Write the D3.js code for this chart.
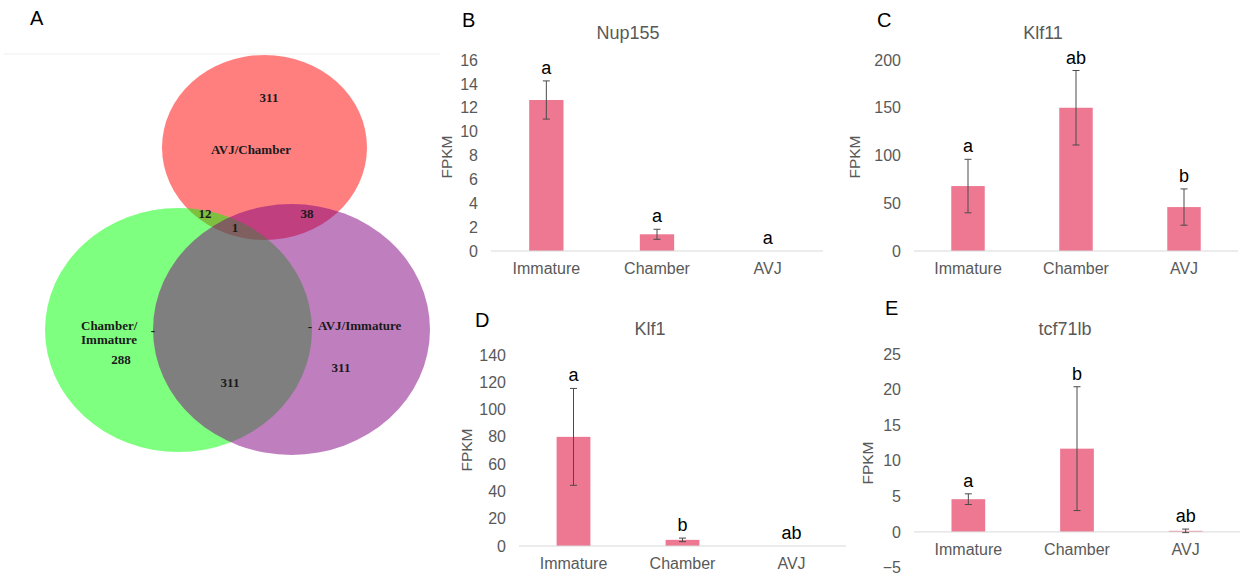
<!DOCTYPE html>
<html>
<head>
<meta charset="utf-8">
<script src="https://cdn.jsdelivr.net/npm/d3@7"></script>
<style>
  body { margin: 0; background: #fff; }
  svg { display: block; font-family: "Liberation Sans", Arial, sans-serif; }
</style>
</head>
<body>
<script>
const W = 1241, H = 576;

// ---- data ----
const categories = ["Immature", "Chamber", "AVJ"];

const nup155Mean = [12.65, 1.4, 0];
const nup155Err = [1.6, 0.42, 0];
const nup155Sig = ["a", "a", "a"];

const klf11Mean = [68, 150, 46];
const klf11Err = [28, 39, 19];
const klf11Sig = ["a", "ab", "b"];

const klf1Mean = [80, 4.5, 0];
const klf1Err = [35.5, 1.3, 0];
const klf1Sig = ["a", "b", "ab"];

const tcfMean = [4.6, 11.7, 0.15];
const tcfErr = [0.75, 8.7, 0.25];
const tcfSig = ["a", "b", "ab"];

// venn set counts
const vennSets = ["AVJ/Chamber", "Chamber/Immature", "AVJ/Immature"];
const vennCounts = { chamberOnly: 311, chImOnly: 288, avjImOnly: 311, chPlusChIm: 12, chPlusAvjIm: 38, all: 1, chImPlusAvjIm: 311 };

const svg = d3.select("body").append("svg")
    .attr("width", W)
    .attr("height", H);

// ---------------- Venn (A) ----------------
const venn = svg.append("g");

venn.append("text")
    .attr("x", 30).attr("y", 25)
    .style("font-size", "20px")
    .attr("fill", "#000")
    .text("A");

venn.append("line")
    .attr("x1", 4).attr("x2", 440)
    .attr("y1", 54).attr("y2", 54)
    .attr("stroke", "#eeeeee");

const ellipses = [
    { cx: 264.5, cy: 147.5, rx: 102.5, ry: 92.5, fill: "rgba(255,0,0,0.5)" },
    { cx: 178.5, cy: 330, rx: 133.5, ry: 122, fill: "rgba(0,255,0,0.5)" },
    { cx: 291.5, cy: 329.5, rx: 138.5, ry: 125.5, fill: "rgba(128,0,128,0.5)" }
];
venn.selectAll("ellipse")
    .data(ellipses)
    .enter()
    .append("ellipse")
    .attr("cx", d => d.cx)
    .attr("cy", d => d.cy)
    .attr("rx", d => d.rx)
    .attr("ry", d => d.ry)
    .attr("fill", d => d.fill);

const vennLabels = [
    { x: 269, y: 102, t: vennCounts.chamberOnly, a: "middle" },
    { x: 251, y: 154, t: vennSets[0], a: "middle" },
    { x: 205, y: 218, t: vennCounts.chPlusChIm, a: "middle" },
    { x: 307, y: 218, t: vennCounts.chPlusAvjIm, a: "middle" },
    { x: 235, y: 232, t: vennCounts.all, a: "middle" },
    { x: 81, y: 330, t: "Chamber/", a: "start" },
    { x: 81, y: 344, t: "Immature", a: "start" },
    { x: 121, y: 364, t: vennCounts.chImOnly, a: "middle" },
    { x: 230, y: 387, t: vennCounts.chImPlusAvjIm, a: "middle" },
    { x: 318, y: 330, t: vennSets[2], a: "start" },
    { x: 341, y: 372, t: vennCounts.avjImOnly, a: "middle" },
    { x: 153, y: 335, t: "-", a: "middle" },
    { x: 310, y: 331, t: "-", a: "middle" }
];
venn.selectAll("text.vl")
    .data(vennLabels)
    .enter()
    .append("text")
    .attr("class", "vl")
    .attr("x", d => d.x)
    .attr("y", d => d.y)
    .attr("text-anchor", d => d.a)
    .style("font-family", "'Liberation Serif', 'Times New Roman', serif")
    .style("font-weight", "bold")
    .style("font-size", "13px")
    .attr("fill", "#1a1a1a")
    .text(d => d.t);

// ---------------- bar charts ----------------
const panels = [
    { letter: "B", lx: 462, ly: 27, title: "Nup155", tx: 628, ty: 39, fx: 447, fy: 157,
      x0: 491, x1: 823, y0: 251, y1: 60, dom: [0, 16], step: 2,
      mean: nup155Mean, err: nup155Err, sig: nup155Sig },
    { letter: "C", lx: 877, ly: 27, title: "Klf11", tx: 1043, ty: 39, fx: 855, fy: 157,
      x0: 914, x1: 1238, y0: 251, y1: 60, dom: [0, 200], step: 50,
      mean: klf11Mean, err: klf11Err, sig: klf11Sig },
    { letter: "D", lx: 475, ly: 327, title: "Klf1", tx: 650, ty: 335, fx: 467, fy: 450,
      x0: 519, x1: 846, y0: 546, y1: 355, dom: [0, 140], step: 20,
      mean: klf1Mean, err: klf1Err, sig: klf1Sig },
    { letter: "E", lx: 885, ly: 315, title: "tcf71lb", tx: 1065, ty: 335, fx: 868, fy: 463,
      x0: 914, x1: 1240, y0: 567.5, y1: 354, dom: [-5, 25], step: 5,
      mean: tcfMean, err: tcfErr, sig: tcfSig }
];

const grey = "#595959";
const barColor = "#ee7892";

panels.forEach(p => {
    const g = svg.append("g");

    const x = d3.scaleBand()
        .domain(categories)
        .range([p.x0, p.x1])
        .paddingInner(0.69)
        .paddingOuter(0.345);

    const y = d3.scaleLinear()
        .domain(p.dom)
        .range([p.y0, p.y1]);

    const rows = categories.map((c, i) => ({ c: c, m: p.mean[i], e: p.err[i], s: p.sig[i] }));

    // panel letter and title
    g.append("text")
        .attr("x", p.lx).attr("y", p.ly)
        .style("font-size", "20px")
        .attr("fill", "#000")
        .text(p.letter);

    g.append("text")
        .attr("x", p.tx).attr("y", p.ty)
        .attr("text-anchor", "middle")
        .style("font-size", "18px")
        .attr("fill", grey)
        .text(p.title);

    g.append("text")
        .attr("transform", `translate(${p.fx},${p.fy}) rotate(-90)`)
        .attr("text-anchor", "middle")
        .attr("dy", "0.35em")
        .style("font-size", "15.5px")
        .attr("fill", grey)
        .text("FPKM");

    // y axis (labels only)
    const yAxis = d3.axisLeft(y)
        .tickValues(d3.range(p.dom[0], p.dom[1] + p.step / 2, p.step))
        .tickSize(0)
        .tickPadding(13);
    const ya = g.append("g")
        .attr("transform", `translate(${p.x0},0)`)
        .call(yAxis);
    ya.select(".domain").remove();
    ya.selectAll("text")
        .style("font-size", "16px")
        .style("font-family", "'Liberation Sans', Arial, sans-serif")
        .attr("fill", grey);

    // bars
    g.selectAll("rect.bar")
        .data(rows)
        .enter()
        .append("rect")
        .attr("class", "bar")
        .attr("x", d => x(d.c))
        .attr("width", x.bandwidth())
        .attr("y", d => y(Math.max(0, d.m)))
        .attr("height", d => Math.abs(y(d.m) - y(0)))
        .attr("fill", barColor);

    // baseline at zero
    g.append("line")
        .attr("x1", p.x0).attr("x2", p.x1)
        .attr("y1", y(0)).attr("y2", y(0))
        .attr("stroke", "#d9d9d9")
        .attr("stroke-width", 1);

    // x axis labels
    const xAxis = d3.axisBottom(x).tickSize(0).tickPadding(12);
    const xa = g.append("g")
        .attr("transform", `translate(0,${y(0)})`)
        .call(xAxis);
    xa.select(".domain").remove();
    xa.selectAll("text")
        .style("font-size", "16px")
        .style("font-family", "'Liberation Sans', Arial, sans-serif")
        .attr("fill", grey);

    // error bars
    const eb = g.selectAll("g.err")
        .data(rows.filter(d => d.e > 0))
        .enter()
        .append("g")
        .attr("class", "err")
        .attr("stroke", "#4a4a4a")
        .attr("stroke-width", 1);
    const cx = d => x(d.c) + x.bandwidth() / 2;
    eb.append("line")
        .attr("x1", cx).attr("x2", cx)
        .attr("y1", d => y(d.m + d.e))
        .attr("y2", d => y(d.m - d.e));
    eb.append("line")
        .attr("x1", d => cx(d) - 3.5).attr("x2", d => cx(d) + 3.5)
        .attr("y1", d => y(d.m + d.e)).attr("y2", d => y(d.m + d.e));
    eb.append("line")
        .attr("x1", d => cx(d) - 3.5).attr("x2", d => cx(d) + 3.5)
        .attr("y1", d => y(d.m - d.e)).attr("y2", d => y(d.m - d.e));

    // significance letters
    g.selectAll("text.sig")
        .data(rows)
        .enter()
        .append("text")
        .attr("class", "sig")
        .attr("x", cx)
        .attr("y", d => y(Math.max(0, d.m) + d.e) - 7)
        .attr("text-anchor", "middle")
        .style("font-size", "18px")
        .attr("fill", "#000")
        .text(d => d.s);
});
</script>
</body>
</html>
